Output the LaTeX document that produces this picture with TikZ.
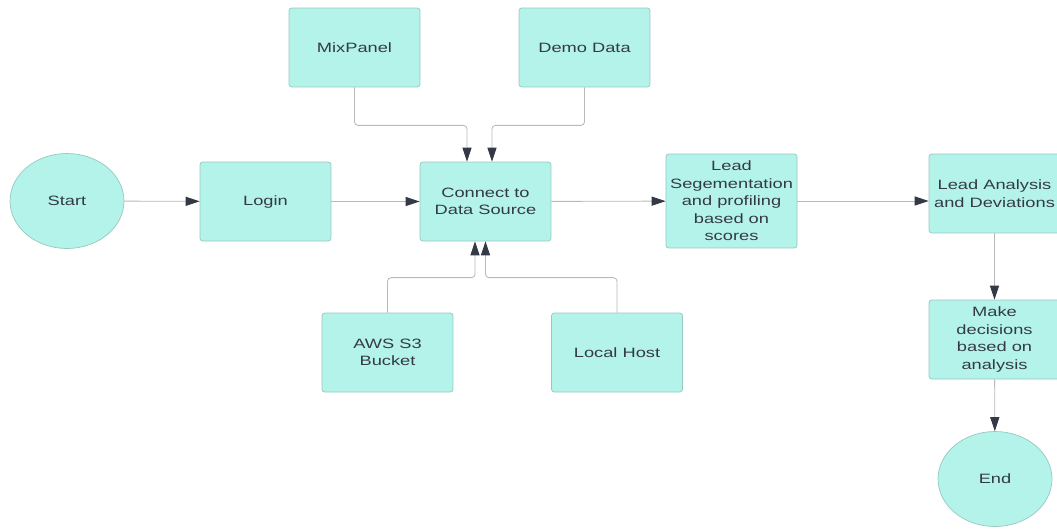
\documentclass[tikz,border=0pt]{standalone}
\usepackage{fontspec}
\setmainfont{Liberation Sans}[FakeStretch=1.35]
\usepackage{tikz}
\usetikzlibrary{arrows.meta,shapes.geometric}
\definecolor{boxfill}{RGB}{180,243,234}
\definecolor{boxline}{RGB}{150,200,192}
\definecolor{txtgray}{RGB}{52,57,70}
\definecolor{linegray}{RGB}{185,185,185}
\tikzstyle{box}=[draw=boxline, fill=boxfill, rounded corners=1.5pt, minimum width=2.62cm, minimum height=1.58cm, align=center, text=txtgray, font=\fontsize{7.7}{10}\selectfont]
\tikzstyle{term}=[ellipse, draw=boxline, fill=boxfill, minimum width=2.28cm, minimum height=1.9cm, text=txtgray, font=\fontsize{7.7}{10}\selectfont]
\tikzstyle{conn}=[draw=linegray, line width=0.5pt, rounded corners=2pt, -{Triangle[length=8pt, width=5.2pt, color=txtgray]}]

\begin{document}
\begin{tikzpicture}[x=0.02cm, y=-0.02cm]
\useasboundingbox (0,0) rectangle (1057,528);
% main row
\node[term] (start) at (67,201) {Start};
\node[box] (login) at (265.5,201.5) {Login};
\node[box] (con) at (485.5,201.5) {Connect to\\Data Source};
\node[box, minimum height=1.88cm, inner xsep=1pt] (seg) at (731.5,201) {Lead\\Segementation\\and profiling\\based on\\scores};
\node[box, inner xsep=1pt] (ana) at (994.5,193.5) {Lead Analysis\\and Deviations};
% data sources
\node[box] (mix) at (354.5,47.5) {MixPanel};
\node[box] (demo) at (584.5,47.5) {Demo Data};
\node[box] (aws) at (387.5,352.5) {AWS S3\\Bucket};
\node[box] (loc) at (617,352.5) {Local Host};
% right column
\node[box] (dec) at (994.5,339.5) {Make\\decisions\\based on\\analysis};
\node[term] (end) at (995,479) {End};

\draw[conn] (start) -- (login);
\draw[conn] (login) -- (con);
\draw[conn] (con) -- (seg);
\draw[conn] (seg.east) -- (seg.east -| ana.west);
\draw[conn] (ana) -- (dec);
\draw[conn] (dec) -- (end);
% sources into the connector box
\draw[conn] (mix.south) -- ++(0,38) -| ([xshift=-0.37cm]con.north);
\draw[conn] (demo.south) -- ++(0,38) -| ([xshift=0.13cm]con.north);
\draw[conn] (aws.north) -- ++(0,-35) -| ([xshift=-0.21cm]con.south);
\draw[conn] (loc.north) -- ++(0,-35) -| (con.south);
\end{tikzpicture}
\end{document}
